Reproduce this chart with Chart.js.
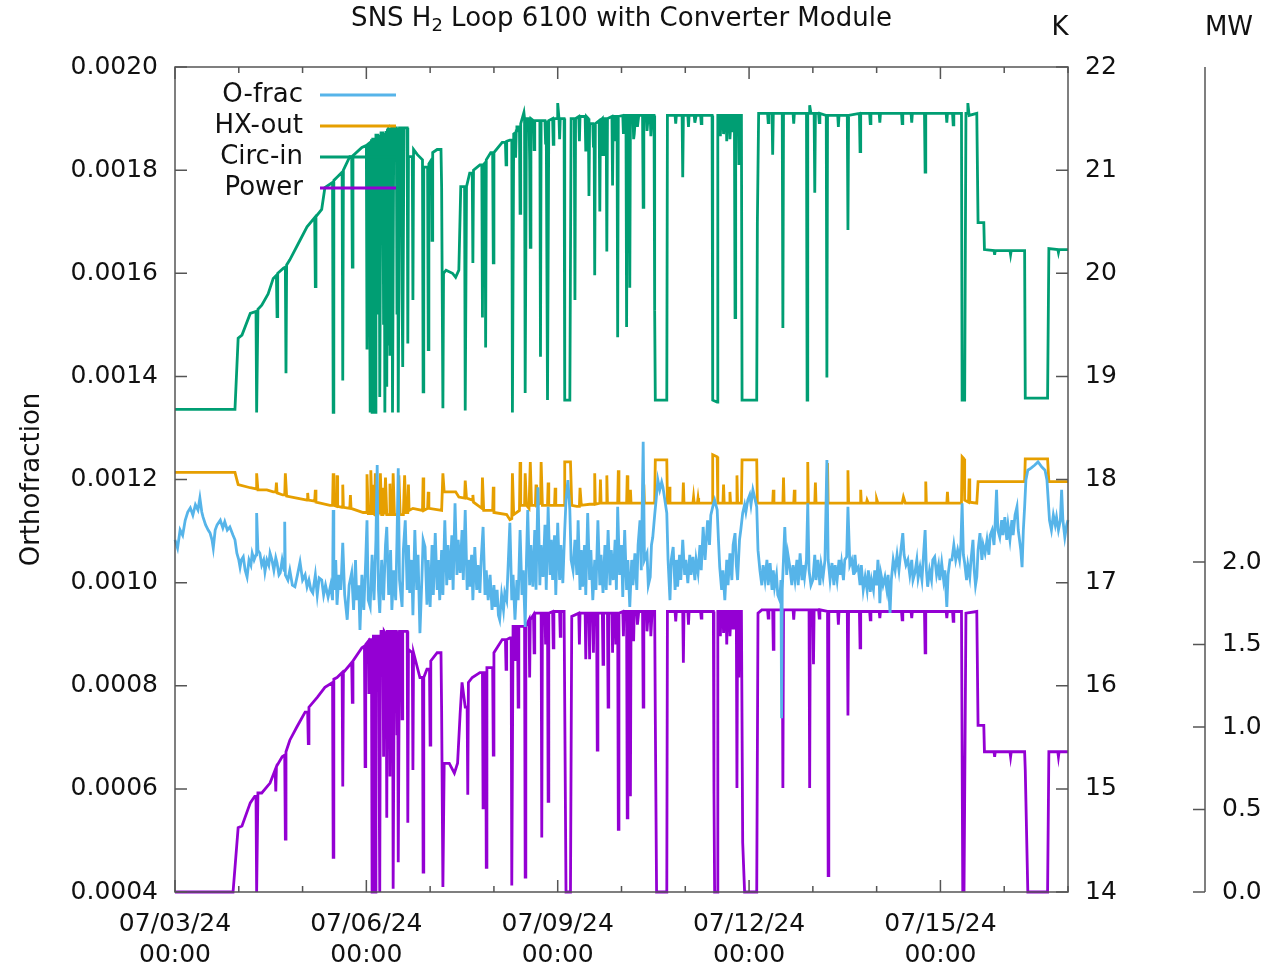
<!DOCTYPE html>
<html>
<head>
<meta charset="utf-8">
<title>SNS H2 Loop 6100 with Converter Module</title>
<script src="https://cdn.jsdelivr.net/npm/chart.js@4.4.1/dist/chart.umd.min.js"></script>
<style>
  html, body { margin: 0; padding: 0; background: #fff; }
  #chart { display: block; }
</style>
</head>
<body>
<canvas id="chart" width="1285" height="967"></canvas>
<script>
const seriesNames = ["O-frac", "HX-out", "Circ-in", "Power"];
const seriesColors = ["#56b4e9", "#e69f00", "#009e73", "#9400d3"];
const dateTickDays = [0, 3, 6, 9, 12];
const dateTickLabels = ["07/03/24", "07/06/24", "07/09/24", "07/12/24", "07/15/24"];
const mwTickMax = 2.0;

// [days since 07/03/24 00:00, value]
const oFrac = [
    [0.00,0.001083],[0.04,0.001067],[0.08,0.001102],[0.12,0.001092],[0.16,0.001121],[0.20,0.001137],[0.24,0.001145],
    [0.28,0.001131],[0.32,0.001151],[0.36,0.001141],[0.39,0.001164],[0.42,0.001137],[0.44,0.001127],[0.48,0.001112],
    [0.52,0.001102],[0.55,0.001096],[0.58,0.001083],[0.60,0.001067],[0.63,0.001102],[0.66,0.001112],[0.71,0.001121],
    [0.75,0.001106],[0.78,0.001118],[0.82,0.001102],[0.86,0.001108],[0.91,0.001092],[0.94,0.001083],[0.97,0.001057],
    [1.00,0.001044],[1.02,0.001030],[1.04,0.001044],[1.07,0.001050],[1.10,0.001024],[1.13,0.001011],[1.16,0.001044],
    [1.19,0.001034],[1.21,0.001057],[1.24,0.001044],[1.27,0.001054],[1.28,0.001135],[1.30,0.001063],[1.33,0.001057],
    [1.36,0.001034],[1.39,0.001044],[1.41,0.001021],[1.44,0.001044],[1.47,0.001034],[1.49,0.001057],[1.52,0.001044],
    [1.55,0.001024],[1.58,0.001048],[1.60,0.001038],[1.63,0.001015],[1.65,0.001019],[1.68,0.001044],[1.71,0.001024],
    [1.72,0.001118],[1.73,0.001015],[1.77,0.001005],[1.80,0.001024],[1.84,0.000995],[1.88,0.000992],[1.92,0.001015],
    [1.96,0.001040],[2.00,0.001005],[2.04,0.001015],[2.07,0.000992],[2.10,0.001005],[2.13,0.000986],[2.16,0.000980],
    [2.20,0.001015],[2.23,0.000976],[2.26,0.001009],[2.30,0.001005],[2.33,0.000976],[2.36,0.000995],[2.40,0.000972],
    [2.44,0.000995],[2.47,0.000966],[2.48,0.001141],[2.49,0.000986],[2.52,0.001044],[2.54,0.000957],[2.57,0.001015],
    [2.60,0.000986],[2.63,0.001077],[2.66,0.000976],[2.70,0.000928],[2.73,0.000995],[2.77,0.001019],[2.80,0.000947],
    [2.83,0.001044],[2.85,0.000966],[2.88,0.000995],[2.90,0.000908],[2.93,0.001015],[2.96,0.000947],[2.99,0.001044],
    [3.01,0.001121],[3.03,0.000966],[3.06,0.000953],[3.09,0.001054],[3.12,0.000966],[3.15,0.001083],[3.17,0.001228],
    [3.19,0.000986],[3.21,0.000941],[3.24,0.001044],[3.27,0.000966],[3.30,0.001073],[3.32,0.001108],[3.35,0.000976],
    [3.38,0.001063],[3.40,0.000947],[3.43,0.001024],[3.46,0.000966],[3.48,0.001083],[3.50,0.001222],[3.52,0.001005],
    [3.56,0.000953],[3.58,0.001063],[3.61,0.001121],[3.64,0.000986],[3.66,0.001073],[3.68,0.000980],[3.71,0.001044],
    [3.73,0.000937],[3.76,0.001102],[3.79,0.000986],[3.81,0.001054],[3.84,0.000902],[3.87,0.001005],[3.89,0.001083],
    [3.92,0.001069],[3.95,0.000957],[3.97,0.001044],[4.00,0.000953],[4.03,0.001073],[4.05,0.000976],[4.08,0.001096],
    [4.11,0.000986],[4.13,0.001044],[4.15,0.000966],[4.18,0.001063],[4.20,0.000976],[4.23,0.001121],[4.26,0.000995],
    [4.28,0.001073],[4.31,0.001005],[4.34,0.001092],[4.36,0.000986],[4.39,0.001154],[4.42,0.001015],[4.44,0.001083],
    [4.47,0.001019],[4.50,0.001102],[4.52,0.001005],[4.55,0.001141],[4.58,0.000986],[4.60,0.001044],[4.62,0.000992],
    [4.65,0.001054],[4.67,0.000966],[4.70,0.001069],[4.73,0.000986],[4.75,0.001034],[4.78,0.000980],[4.80,0.001044],
    [4.83,0.001108],[4.86,0.000976],[4.88,0.001024],[4.91,0.000966],[4.94,0.001015],[4.97,0.000947],[5.00,0.000995],
    [5.02,0.000953],[5.05,0.000986],[5.07,0.000937],[5.09,0.000928],[5.12,0.000976],[5.15,0.000947],[5.17,0.000980],
    [5.20,0.000966],[5.22,0.001024],[5.25,0.001116],[5.28,0.000966],[5.30,0.001015],[5.33,0.000928],[5.36,0.001005],
    [5.38,0.000966],[5.41,0.001102],[5.44,0.000976],[5.46,0.001024],[5.49,0.000914],[5.51,0.001044],[5.53,0.001141],
    [5.56,0.000995],[5.58,0.001073],[5.61,0.000992],[5.64,0.001102],[5.66,0.000986],[5.69,0.001185],[5.72,0.000995],
    [5.74,0.001073],[5.77,0.001011],[5.80,0.001112],[5.82,0.000986],[5.85,0.001147],[5.88,0.001015],[5.90,0.001083],
    [5.92,0.001005],[5.95,0.001092],[5.97,0.000976],[6.00,0.001116],[6.03,0.001005],[6.05,0.001073],[6.08,0.000999],
    [6.11,0.001102],[6.13,0.001160],[6.16,0.001199],[6.19,0.001141],[6.21,0.001044],[6.24,0.001024],[6.27,0.001083],
    [6.30,0.001015],[6.32,0.001121],[6.35,0.000986],[6.37,0.001063],[6.39,0.000992],[6.42,0.001073],[6.44,0.000976],
    [6.47,0.001135],[6.50,0.001005],[6.52,0.001063],[6.55,0.000966],[6.58,0.001044],[6.60,0.000986],[6.63,0.001121],
    [6.66,0.000995],[6.68,0.001054],[6.71,0.000980],[6.74,0.001073],[6.76,0.000986],[6.79,0.001102],[6.82,0.000995],
    [6.84,0.001063],[6.87,0.001005],[6.90,0.001083],[6.92,0.000986],[6.94,0.001147],[6.97,0.001015],[7.00,0.001073],
    [7.02,0.000972],[7.05,0.001102],[7.08,0.000986],[7.10,0.001044],[7.13,0.000953],[7.16,0.001044],[7.18,0.000995],
    [7.21,0.001057],[7.24,0.000986],[7.26,0.001073],[7.29,0.001121],[7.31,0.001024],[7.34,0.001273],[7.36,0.001044],
    [7.40,0.001057],[7.42,0.000995],[7.45,0.001011],[7.47,0.001073],[7.49,0.001088],[7.52,0.001131],[7.55,0.001170],
    [7.57,0.001199],[7.60,0.001180],[7.63,0.001195],[7.65,0.001185],[7.68,0.001160],[7.71,0.001135],[7.73,0.001044],
    [7.76,0.000966],[7.78,0.001044],[7.81,0.001069],[7.84,0.000986],[7.86,0.001044],[7.88,0.000992],[7.91,0.001054],
    [7.93,0.001005],[7.96,0.001083],[7.99,0.001015],[8.01,0.001044],[8.04,0.000999],[8.07,0.001054],[8.09,0.001015],
    [8.12,0.001050],[8.15,0.001005],[8.17,0.001044],[8.20,0.001019],[8.23,0.001073],[8.25,0.001024],[8.28,0.001108],
    [8.31,0.001044],[8.33,0.001083],[8.35,0.001121],[8.38,0.001073],[8.40,0.001131],[8.43,0.001147],[8.46,0.001160],
    [8.50,0.001141],[8.52,0.001083],[8.54,0.001030],[8.57,0.000986],[8.59,0.001024],[8.62,0.000966],[8.65,0.001044],
    [8.67,0.000995],[8.70,0.001057],[8.73,0.001005],[8.75,0.001073],[8.78,0.001096],[8.80,0.001034],[8.82,0.001005],
    [8.85,0.001083],[8.87,0.001102],[8.90,0.001135],[8.93,0.001151],[8.95,0.001137],[8.98,0.001160],[9.01,0.001170],
    [9.03,0.001151],[9.06,0.001180],[9.09,0.001164],[9.12,0.001147],[9.14,0.001063],[9.17,0.001024],[9.20,0.000995],
    [9.22,0.001034],[9.25,0.001005],[9.28,0.001044],[9.30,0.000995],[9.33,0.001038],[9.36,0.000986],[9.38,0.001024],
    [9.40,0.000992],[9.43,0.001015],[9.45,0.000976],[9.48,0.000966],[9.50,0.001005],[9.51,0.000737],[9.52,0.000986],
    [9.56,0.001108],[9.59,0.001015],[9.61,0.001054],[9.64,0.001030],[9.67,0.000995],[9.69,0.001034],[9.72,0.001005],
    [9.75,0.001044],[9.77,0.000995],[9.80,0.001057],[9.83,0.001005],[9.85,0.001034],[9.87,0.001011],[9.90,0.001044],
    [9.92,0.001154],[9.94,0.001024],[9.97,0.000995],[10.00,0.001005],[10.03,0.001054],[10.05,0.001005],[10.08,0.001044],
    [10.11,0.000995],[10.13,0.001034],[10.16,0.001011],[10.19,0.001044],[10.22,0.001238],[10.24,0.001044],[10.27,0.001005],
    [10.30,0.001038],[10.33,0.000995],[10.35,0.001034],[10.38,0.001005],[10.41,0.001044],[10.43,0.001015],[10.45,0.001038],
    [10.48,0.001005],[10.50,0.001044],[10.53,0.001050],[10.55,0.001147],[10.58,0.001034],[10.61,0.001044],[10.64,0.001015],
    [10.66,0.001054],[10.68,0.001024],[10.71,0.001030],[10.74,0.000995],[10.76,0.001034],[10.79,0.000986],[10.82,0.001011],
    [10.85,0.000986],[10.87,0.001024],[10.90,0.000982],[10.92,0.001005],[10.95,0.000986],[10.97,0.001024],[11.00,0.000995],
    [11.02,0.001044],[11.04,0.001005],[11.05,0.000960],[11.07,0.001015],[11.10,0.000995],[11.13,0.001011],[11.16,0.000986],
    [11.18,0.001015],[11.21,0.000941],[11.23,0.001005],[11.26,0.001044],[11.29,0.001024],[11.32,0.001054],[11.35,0.001024],
    [11.38,0.001063],[11.41,0.001096],[11.43,0.001054],[11.46,0.001034],[11.49,0.001044],[11.52,0.001015],[11.55,0.001044],
    [11.57,0.001005],[11.60,0.001019],[11.63,0.001044],[11.65,0.001009],[11.68,0.001030],[11.71,0.001005],[11.73,0.001044],
    [11.76,0.001102],[11.78,0.001024],[11.80,0.000992],[11.83,0.001024],[11.86,0.001005],[11.88,0.001044],[11.91,0.001050],
    [11.94,0.001015],[11.97,0.001034],[11.99,0.001005],[12.02,0.001038],[12.05,0.001005],[12.07,0.001024],[12.10,0.000953],
    [12.12,0.001015],[12.15,0.001044],[12.18,0.001044],[12.21,0.001073],[12.24,0.001044],[12.27,0.001063],[12.30,0.001044],
    [12.32,0.001073],[12.34,0.001154],[12.36,0.001054],[12.38,0.001038],[12.41,0.001005],[12.43,0.001034],[12.46,0.001011],
    [12.48,0.001044],[12.51,0.001083],[12.53,0.001024],[12.55,0.000995],[12.57,0.001011],[12.59,0.001063],[12.62,0.001096],
    [12.65,0.001044],[12.67,0.001073],[12.70,0.001057],[12.73,0.001083],[12.76,0.001054],[12.78,0.001092],[12.81,0.001102],
    [12.84,0.001073],[12.86,0.001121],[12.88,0.001180],[12.90,0.001102],[12.93,0.001088],[12.96,0.001121],[12.98,0.001092],
    [13.01,0.001127],[13.04,0.001083],[13.06,0.001112],[13.09,0.001083],[13.12,0.001121],[13.14,0.001092],[13.17,0.001131],
    [13.20,0.001147],[13.22,0.001102],[13.24,0.001083],[13.26,0.001063],[13.28,0.001030],[13.30,0.001102],[13.32,0.001147],
    [13.34,0.001199],[13.37,0.001218],[13.42,0.001222],[13.48,0.001228],[13.53,0.001234],[13.59,0.001224],[13.64,0.001218],
    [13.67,0.001199],[13.69,0.001160],[13.71,0.001121],[13.74,0.001102],[13.77,0.001131],[13.80,0.001112],[13.82,0.001127],
    [13.85,0.001102],[13.88,0.001121],[13.90,0.001180],[13.92,0.001121],[13.95,0.001088],[13.98,0.001112],[14.00,0.001121]
];

const hxOut = [
    [0,18.07],[0.94,18.07],[0.99,17.95],[1.18,17.92],[1.27,17.91],[1.28,18.06],[1.30,17.90],[1.44,17.90],[1.54,17.88],
    [1.58,17.88],[1.59,17.97],[1.60,17.87],[1.69,17.85],[1.72,17.85],[1.73,18.06],[1.75,17.84],[1.91,17.82],[2.07,17.80],
    [2.08,17.87],[2.09,17.80],[2.19,17.79],[2.20,17.90],[2.21,17.78],[2.43,17.75],[2.47,17.75],[2.48,18.06],[2.49,17.75],
    [2.53,17.74],[2.54,18.04],[2.55,17.74],[2.62,17.73],[2.63,17.95],[2.64,17.73],[2.74,17.72],[2.75,17.85],[2.76,17.72],
    [2.95,17.68],[3.00,17.68],[3.01,18.05],[3.03,17.67],[3.06,17.67],[3.07,18.09],[3.09,17.67],[3.10,17.95],[3.11,17.67],
    [3.13,17.66],[3.14,18.06],[3.16,17.66],[3.18,17.66],[3.19,17.90],[3.20,17.66],[3.21,17.66],[3.22,18.06],[3.24,17.66],
    [3.26,17.66],[3.27,17.92],[3.28,17.66],[3.29,17.66],[3.30,18.02],[3.32,17.66],[3.36,17.66],[3.37,17.96],[3.38,17.66],
    [3.41,17.66],[3.42,18.06],[3.44,17.66],[3.50,17.66],[3.51,18.04],[3.53,17.66],[3.58,17.66],[3.60,18.04],[3.62,17.68],
    [3.65,17.68],[3.66,17.95],[3.67,17.70],[3.73,17.72],[3.88,17.70],[3.89,18.02],[3.90,17.70],[3.96,17.72],[3.97,17.88],
    [3.98,17.72],[4.18,17.70],[4.20,18.06],[4.22,17.88],[4.40,17.88],[4.45,17.83],[4.54,17.82],[4.55,17.99],[4.57,17.82],
    [4.66,17.80],[4.67,17.85],[4.68,17.78],[4.81,17.72],[4.82,18.02],[4.84,17.70],[4.98,17.70],[4.99,17.93],[5.00,17.68],
    [5.20,17.66],[5.25,17.61],[5.28,17.62],[5.29,18.06],[5.31,17.66],[5.40,17.70],[5.41,18.17],[5.42,17.75],[5.48,17.75],
    [5.49,18.06],[5.51,17.75],[5.55,17.72],[5.57,18.17],[5.59,17.75],[5.65,17.75],[5.66,17.95],[5.67,17.75],[5.73,17.77],
    [5.74,18.17],[5.76,17.75],[5.84,17.75],[5.85,17.97],[5.86,17.75],[5.95,17.75],[5.96,17.92],[5.97,17.75],[6.10,17.75],
    [6.11,18.17],[6.20,18.17],[6.22,17.75],[6.30,17.74],[6.34,17.74],[6.35,17.92],[6.37,17.75],[6.50,17.76],[6.57,17.76],
    [6.58,18.06],[6.59,17.76],[6.66,17.77],[6.67,18.00],[6.68,17.77],[6.76,17.77],[6.77,18.04],[6.78,17.77],[6.94,17.77],
    [6.95,18.09],[6.96,17.77],[7.08,17.77],[7.09,18.04],[7.10,17.77],[7.13,17.77],[7.14,17.90],[7.15,17.77],[7.34,17.77],
    [7.35,17.95],[7.36,17.77],[7.52,17.77],[7.53,18.19],[7.71,18.19],[7.72,17.77],[7.74,17.77],[7.75,17.93],[7.76,17.77],
    [7.96,17.77],[7.97,17.97],[7.98,17.77],[8.12,17.77],[8.13,17.83],[8.14,17.77],[8.19,17.77],[8.20,17.82],[8.21,17.77],
    [8.42,17.77],[8.43,18.24],[8.50,18.22],[8.51,17.77],[8.59,17.77],[8.60,17.95],[8.61,17.77],[8.69,17.77],[8.70,17.88],
    [8.71,17.77],[8.80,17.77],[8.81,18.04],[8.82,17.77],[8.88,17.77],[8.89,18.19],[9.12,18.19],[9.13,17.77],[9.37,17.77],
    [9.38,17.90],[9.39,17.77],[9.53,17.77],[9.54,18.02],[9.55,17.77],[9.70,17.77],[9.71,17.90],[9.72,17.77],[9.91,17.77],
    [9.92,18.17],[9.93,17.77],[10.03,17.77],[10.04,17.97],[10.05,17.77],[10.22,17.77],[10.23,18.16],[10.24,17.77],
    [10.54,17.77],[10.55,18.09],[10.56,17.77],[10.74,17.77],[10.75,17.90],[10.76,17.77],[10.84,17.77],[10.85,17.80],
    [10.87,17.77],[10.99,17.77],[11.00,17.81],[11.02,17.77],[11.40,17.77],[11.42,17.83],[11.45,17.77],[11.76,17.77],
    [11.77,17.98],[11.78,17.77],[12.10,17.77],[12.11,17.88],[12.12,17.77],[12.33,17.77],[12.34,18.22],[12.37,18.20],
    [12.38,17.80],[12.44,17.78],[12.45,18.01],[12.46,17.78],[12.57,17.77],[12.59,17.98],[13.32,17.98],[13.33,18.20],
    [13.68,18.20],[13.70,17.98],[14.00,17.98]
];

const circIn = [
    [0,18.68],[0.94,18.68],[0.99,19.37],[1.05,19.40],[1.18,19.61],[1.27,19.63],[1.28,18.65],[1.30,19.65],[1.36,19.69],
    [1.46,19.80],[1.54,19.95],[1.59,19.98],[1.60,19.58],[1.61,20.00],[1.70,20.05],[1.73,20.06],[1.74,19.03],[1.75,20.08],
    [1.80,20.13],[1.96,20.32],[2.07,20.45],[2.19,20.54],[2.20,19.87],[2.21,20.55],[2.30,20.62],[2.35,20.83],[2.47,20.88],
    [2.48,18.65],[2.49,20.90],[2.54,20.93],[2.62,20.98],[2.63,18.96],[2.64,21.00],[2.74,21.13],[2.77,21.13],[2.78,20.06],
    [2.79,21.14],[2.93,21.22],[3.00,21.24],[3.01,19.26],[3.02,21.25],[3.04,21.26],[3.05,20.10],[3.06,18.65],[3.08,21.30],
    [3.09,18.65],[3.10,21.30],[3.12,21.30],[3.13,18.65],[3.14,18.65],[3.15,21.34],[3.18,21.34],[3.19,19.60],[3.20,21.34],
    [3.21,18.80],[3.23,21.36],[3.26,21.36],[3.27,19.50],[3.28,21.36],[3.29,18.65],[3.31,21.38],[3.32,18.90],[3.33,21.39],
    [3.34,21.40],[3.35,19.30],[3.36,21.40],[3.37,19.20],[3.38,21.40],[3.40,21.41],[3.41,18.65],[3.43,21.41],[3.47,21.41],
    [3.48,19.60],[3.49,21.41],[3.50,18.65],[3.52,21.41],[3.55,21.41],[3.56,19.80],[3.57,19.09],[3.59,21.41],[3.64,21.41],
    [3.65,19.32],[3.66,21.13],[3.72,21.13],[3.73,19.74],[3.74,21.20],[3.80,21.15],[3.88,21.10],[3.89,18.85],[3.90,21.03],
    [3.96,21.03],[3.97,19.26],[3.98,21.06],[4.02,21.10],[4.03,20.32],[4.04,21.17],[4.11,21.20],[4.17,21.20],[4.18,20.84],
    [4.20,18.69],[4.21,20.00],[4.25,20.03],[4.35,20.00],[4.40,19.96],[4.45,20.03],[4.48,20.84],[4.54,20.84],[4.55,18.67],
    [4.57,20.84],[4.62,20.97],[4.66,20.97],[4.67,20.10],[4.68,21.00],[4.78,21.05],[4.81,21.05],[4.82,19.57],[4.83,21.05],
    [4.86,21.07],[4.87,19.28],[4.88,21.10],[4.95,21.17],[4.98,21.17],[4.99,20.10],[5.00,21.17],[5.13,21.27],[5.18,21.27],
    [5.19,21.05],[5.20,21.28],[5.25,21.29],[5.28,21.29],[5.29,18.65],[5.31,21.35],[5.33,21.36],[5.34,21.12],[5.35,21.38],
    [5.36,21.42],[5.40,21.42],[5.41,20.58],[5.42,21.45],[5.47,21.56],[5.48,21.50],[5.49,18.84],[5.51,21.50],[5.55,21.50],
    [5.56,21.10],[5.57,20.25],[5.58,21.50],[5.62,21.48],[5.63,21.20],[5.64,21.48],[5.72,21.48],[5.73,19.19],[5.74,21.48],
    [5.80,21.48],[5.81,21.25],[5.82,21.48],[5.83,21.48],[5.84,18.77],[5.86,21.48],[5.92,21.50],[5.93,21.25],[5.94,21.50],
    [5.99,21.50],[6.00,21.65],[6.02,21.50],[6.03,21.30],[6.04,21.50],[6.10,21.50],[6.11,18.77],[6.19,18.77],[6.21,21.50],
    [6.26,21.50],[6.27,19.74],[6.28,21.50],[6.33,21.52],[6.34,21.28],[6.35,21.52],[6.43,21.52],[6.44,21.18],[6.45,21.52],
    [6.48,21.50],[6.49,20.75],[6.50,21.45],[6.55,21.45],[6.56,21.22],[6.57,21.45],[6.58,19.98],[6.59,21.45],[6.65,21.48],
    [6.66,20.60],[6.67,21.48],[6.70,21.50],[6.71,21.15],[6.72,21.50],[6.76,21.50],[6.77,20.21],[6.78,21.50],[6.85,21.52],
    [6.86,20.85],[6.87,21.52],[6.90,21.52],[6.91,21.28],[6.92,21.52],[6.93,21.52],[6.94,19.38],[6.95,21.52],[7.02,21.53],
    [7.03,21.35],[7.04,21.53],[7.07,21.53],[7.08,19.48],[7.09,21.53],[7.12,21.53],[7.13,19.86],[7.14,21.53],[7.18,21.53],
    [7.19,21.30],[7.20,21.35],[7.22,21.53],[7.24,21.53],[7.25,21.42],[7.27,21.53],[7.33,21.53],[7.34,20.64],[7.35,21.53],
    [7.39,21.53],[7.40,21.38],[7.42,21.53],[7.45,21.53],[7.46,21.33],[7.48,21.53],[7.51,21.53],[7.52,19.64],[7.53,18.77],
    [7.71,18.77],[7.72,21.53],[7.84,21.53],[7.85,21.45],[7.86,21.53],[7.95,21.53],[7.96,20.93],[7.97,21.53],[8.04,21.53],
    [8.05,21.42],[8.06,21.53],[8.14,21.53],[8.15,21.46],[8.17,21.53],[8.24,21.53],[8.25,21.45],[8.26,21.53],[8.42,21.53],
    [8.43,18.77],[8.50,18.75],[8.51,21.53],[8.54,21.53],[8.55,21.33],[8.56,21.53],[8.59,21.53],[8.60,21.35],[8.62,21.53],
    [8.64,21.53],[8.65,21.28],[8.66,21.53],[8.69,21.53],[8.70,21.30],[8.72,21.53],[8.74,21.53],[8.75,21.38],[8.76,21.53],
    [8.77,21.53],[8.78,19.57],[8.79,21.53],[8.83,21.53],[8.84,21.05],[8.85,21.53],[8.88,21.53],[8.89,18.77],[9.12,18.77],
    [9.13,20.49],[9.15,21.55],[9.29,21.55],[9.30,21.46],[9.31,21.55],[9.36,21.55],[9.37,21.15],[9.38,21.55],[9.52,21.55],
    [9.53,19.47],[9.54,21.55],[9.69,21.55],[9.70,21.45],[9.71,21.55],[9.90,21.55],[9.91,18.77],[9.92,21.55],[9.94,21.55],
    [9.95,21.63],[9.97,21.55],[10.02,21.55],[10.03,20.78],[10.04,21.55],[10.09,21.55],[10.10,21.46],[10.11,21.55],
    [10.21,21.53],[10.22,18.99],[10.23,21.53],[10.39,21.53],[10.40,21.42],[10.41,21.53],[10.54,21.53],[10.55,20.42],
    [10.56,21.53],[10.73,21.55],[10.74,21.18],[10.75,21.55],[10.89,21.55],[10.90,21.45],[10.91,21.55],[11.04,21.55],
    [11.05,21.46],[11.06,21.55],[11.39,21.55],[11.40,21.45],[11.41,21.55],[11.54,21.55],[11.55,21.46],[11.56,21.55],
    [11.75,21.55],[11.76,20.98],[11.77,21.55],[12.09,21.55],[12.10,21.46],[12.11,21.55],[12.19,21.55],[12.20,21.44],
    [12.21,21.55],[12.33,21.55],[12.34,18.77],[12.38,18.77],[12.40,21.55],[12.42,21.55],[12.43,21.65],[12.45,21.53],
    [12.57,21.55],[12.59,20.49],[12.68,20.49],[12.69,20.23],[12.84,20.22],[12.85,20.18],[12.86,20.22],[13.09,20.22],
    [13.10,20.18],[13.11,20.22],[13.32,20.22],[13.33,18.79],[13.68,18.79],[13.70,20.24],[13.84,20.23],[13.85,20.20],
    [13.86,20.23],[14.00,20.23]
];

const power = [
    [0,0],[0.91,0],[0.99,0.39],[1.05,0.40],[1.18,0.54],[1.25,0.58],[1.27,0.58],[1.28,0],[1.30,0.60],[1.36,0.60],
    [1.49,0.66],[1.57,0.74],[1.58,0.61],[1.59,0.76],[1.68,0.82],[1.72,0.83],[1.73,0.32],[1.74,0.85],[1.80,0.92],
    [1.91,1.00],[2.04,1.09],[2.08,1.09],[2.09,0.90],[2.10,1.12],[2.23,1.18],[2.35,1.24],[2.47,1.27],[2.48,0.21],
    [2.49,1.29],[2.54,1.30],[2.62,1.33],[2.63,0.64],[2.64,1.33],[2.77,1.39],[2.78,1.15],[2.79,1.40],[2.93,1.48],
    [2.97,1.49],[2.98,0.76],[2.99,1.50],[3.03,1.52],[3.04,1.20],[3.05,1.53],[3.08,1.53],[3.09,0],[3.10,1.10],[3.11,1.55],
    [3.13,1.55],[3.14,0],[3.15,1.55],[3.19,1.55],[3.21,0],[3.22,1.40],[3.23,1.58],[3.26,1.58],[3.27,0.82],[3.28,1.58],
    [3.31,1.56],[3.32,0.45],[3.33,1.58],[3.36,1.58],[3.37,0.70],[3.38,1.58],[3.41,1.58],[3.42,0.02],[3.44,1.58],
    [3.47,1.58],[3.48,0.95],[3.49,1.58],[3.50,0.18],[3.52,1.58],[3.55,1.58],[3.56,1.05],[3.57,1.58],[3.64,1.58],
    [3.65,0.42],[3.66,1.47],[3.72,1.45],[3.73,0.74],[3.74,1.45],[3.84,1.30],[3.88,1.30],[3.89,0.12],[3.90,1.30],
    [3.95,1.35],[3.99,1.35],[4.00,0.89],[4.01,1.40],[4.11,1.45],[4.17,1.45],[4.18,1.10],[4.20,0.03],[4.22,0.78],
    [4.30,0.78],[4.38,0.72],[4.43,0.78],[4.47,1.08],[4.50,1.27],[4.55,1.12],[4.58,1.12],[4.59,0.59],[4.60,1.27],
    [4.66,1.30],[4.78,1.33],[4.82,1.33],[4.83,0.51],[4.84,1.33],[4.87,1.33],[4.88,0.15],[4.89,1.36],[4.98,1.36],
    [4.99,0.83],[5.00,1.45],[5.13,1.53],[5.18,1.53],[5.19,1.35],[5.20,1.53],[5.25,1.54],[5.27,1.54],[5.28,0.04],
    [5.30,1.61],[5.33,1.61],[5.34,1.40],[5.35,1.61],[5.37,1.61],[5.38,1.12],[5.39,1.61],[5.48,1.61],[5.49,0.09],
    [5.50,1.61],[5.55,1.65],[5.56,1.30],[5.57,1.65],[5.62,1.68],[5.63,1.45],[5.64,1.69],[5.74,1.69],[5.75,0.33],
    [5.76,1.69],[5.80,1.69],[5.81,1.50],[5.82,1.69],[5.84,1.69],[5.85,0.55],[5.86,1.69],[5.92,1.70],[5.93,1.48],
    [5.94,1.70],[6.03,1.70],[6.04,1.55],[6.05,1.70],[6.10,1.70],[6.13,0],[6.20,0],[6.22,1.67],[6.33,1.69],[6.34,1.50],
    [6.35,1.69],[6.43,1.69],[6.44,1.41],[6.45,1.69],[6.49,1.69],[6.50,1.41],[6.51,1.69],[6.55,1.69],[6.56,1.45],
    [6.57,1.69],[6.61,1.69],[6.62,0.86],[6.63,1.69],[6.70,1.69],[6.71,1.38],[6.72,1.69],[6.78,1.69],[6.79,1.12],
    [6.80,1.69],[6.85,1.69],[6.86,1.45],[6.87,1.69],[6.90,1.69],[6.91,1.50],[6.92,1.69],[6.94,1.69],[6.95,0.38],
    [6.96,1.69],[7.02,1.70],[7.03,1.55],[7.04,1.70],[7.08,1.70],[7.09,0.45],[7.10,1.70],[7.13,1.70],[7.14,0.58],
    [7.15,1.70],[7.18,1.70],[7.19,1.52],[7.20,1.70],[7.24,1.70],[7.25,1.62],[7.27,1.70],[7.33,1.70],[7.34,1.12],
    [7.35,1.70],[7.39,1.70],[7.40,1.58],[7.42,1.70],[7.45,1.70],[7.46,1.55],[7.48,1.70],[7.52,1.70],[7.53,1.06],[7.55,0],
    [7.71,0],[7.72,1.70],[7.84,1.70],[7.85,1.64],[7.86,1.70],[7.96,1.70],[7.97,1.39],[7.98,1.70],[8.04,1.70],[8.05,1.62],
    [8.06,1.70],[8.24,1.70],[8.25,1.66],[8.26,1.70],[8.44,1.70],[8.45,0.60],[8.46,0],[8.50,0],[8.51,1.70],[8.54,1.70],
    [8.55,1.55],[8.56,1.70],[8.59,1.70],[8.60,1.57],[8.62,1.70],[8.64,1.70],[8.65,1.50],[8.66,1.70],[8.69,1.70],
    [8.70,1.55],[8.72,1.70],[8.74,1.70],[8.75,1.60],[8.76,1.70],[8.80,1.70],[8.81,0.63],[8.82,1.70],[8.83,1.70],
    [8.84,1.30],[8.85,1.70],[8.88,1.70],[8.90,0.30],[8.93,0],[9.12,0],[9.14,1.69],[9.20,1.71],[9.29,1.71],[9.30,1.66],
    [9.31,1.71],[9.37,1.71],[9.38,1.47],[9.39,1.71],[9.52,1.71],[9.53,0.63],[9.54,1.71],[9.69,1.71],[9.70,1.65],
    [9.71,1.71],[9.94,1.71],[9.95,0.63],[9.96,1.71],[10.00,1.71],[10.01,1.38],[10.02,1.71],[10.09,1.71],[10.10,1.66],
    [10.11,1.71],[10.23,1.70],[10.24,0.10],[10.25,1.70],[10.39,1.70],[10.40,1.62],[10.41,1.70],[10.54,1.70],[10.55,1.07],
    [10.56,1.70],[10.73,1.70],[10.74,1.48],[10.75,1.70],[10.89,1.70],[10.90,1.65],[10.91,1.70],[11.04,1.70],[11.05,1.66],
    [11.06,1.70],[11.39,1.70],[11.40,1.65],[11.41,1.70],[11.54,1.70],[11.55,1.66],[11.56,1.70],[11.75,1.70],[11.76,1.45],
    [11.77,1.70],[12.09,1.70],[12.10,1.66],[12.11,1.70],[12.19,1.70],[12.20,1.64],[12.21,1.70],[12.33,1.70],[12.35,0.01],
    [12.37,0.01],[12.40,1.69],[12.57,1.70],[12.59,1.01],[12.68,1.01],[12.69,0.85],[12.84,0.85],[12.85,0.82],[12.86,0.85],
    [13.09,0.85],[13.10,0.82],[13.11,0.85],[13.32,0.85],[13.33,0.74],[13.37,0],[13.68,0],[13.70,0.85],[13.84,0.85],
    [13.85,0.82],[13.86,0.85],[14.00,0.85]
];

const FONT = '"DejaVu Sans", sans-serif';
const TICK_SIZE = 25;
const LABEL_SIZE = 26;
const TEXT_COLOR = "#111";
const FRAME_COLOR = "#555";
const LINE_WIDTH = 2.8;

function toXY(series) {
    return series.map((p) => ({ x: p[0], y: p[1] }));
}

function makeDataset(i, series, axis) {
    return {
        label: seriesNames[i],
        data: toXY(series),
        yAxisID: axis,
        borderColor: seriesColors[i],
        backgroundColor: seriesColors[i],
        borderWidth: LINE_WIDTH,
        pointRadius: 0,
        tension: 0,
        fill: false,
        clip: 4,
    };
}

// gnuplot style frame, inward tics, key and labels
const gnuplotDecor = {
    id: "gnuplotDecor",
    afterDraw(chart) {
        const ctx = chart.ctx;
        const a = chart.chartArea;
        const sx = chart.scales.x;
        const sy = chart.scales.y;
        const sk = chart.scales.yK;
        const sm = chart.scales.yMW;

        ctx.save();
        ctx.strokeStyle = FRAME_COLOR;
        ctx.lineWidth = 1.5;
        ctx.strokeRect(a.left, a.top, a.right - a.left, a.bottom - a.top);

        ctx.beginPath();
        sx.ticks.forEach((t) => {
            const px = sx.getPixelForValue(t.value);
            const len = dateTickDays.includes(t.value) ? 12 : 6;
            ctx.moveTo(px, a.bottom);
            ctx.lineTo(px, a.bottom - len);
            ctx.moveTo(px, a.top);
            ctx.lineTo(px, a.top + len);
        });
        sy.ticks.forEach((t) => {
            const py = sy.getPixelForValue(t.value);
            ctx.moveTo(a.left, py);
            ctx.lineTo(a.left + 12, py);
        });
        sk.ticks.forEach((t) => {
            const py = sk.getPixelForValue(t.value);
            ctx.moveTo(a.right, py);
            ctx.lineTo(a.right - 12, py);
        });
        ctx.moveTo(sm.left, a.top);
        ctx.lineTo(sm.left, a.bottom);
        sm.ticks.forEach((t) => {
            const py = sm.getPixelForValue(t.value);
            ctx.moveTo(sm.left, py);
            ctx.lineTo(sm.left - 12, py);
        });
        ctx.stroke();

        ctx.fillStyle = TEXT_COLOR;
        ctx.textBaseline = "middle";

        // title with subscript
        const big = LABEL_SIZE + "px " + FONT;
        const small = Math.round(LABEL_SIZE * 0.7) + "px " + FONT;
        const t1 = "SNS H", t2 = "2", t3 = " Loop 6100 with Converter Module";
        ctx.font = big;
        const w1 = ctx.measureText(t1).width, w3 = ctx.measureText(t3).width;
        ctx.font = small;
        const w2 = ctx.measureText(t2).width;
        const tx = (a.left + a.right) / 2 - (w1 + w2 + w3) / 2;
        const ty = 19;
        ctx.textAlign = "left";
        ctx.font = big;
        ctx.fillText(t1, tx, ty);
        ctx.font = small;
        ctx.fillText(t2, tx + w1, ty + 7);
        ctx.font = big;
        ctx.fillText(t3, tx + w1 + w2, ty);

        // axis unit labels
        ctx.textAlign = "center";
        ctx.fillText("K", a.right - 8, 28);
        ctx.fillText("MW", sm.left + 24, 28);

        ctx.save();
        ctx.translate(32, (a.top + a.bottom) / 2);
        ctx.rotate(-Math.PI / 2);
        ctx.fillText("Orthofraction", 0, 0);
        ctx.restore();

        // key
        ctx.textAlign = "right";
        chart.data.datasets.forEach((ds, i) => {
            const ky = 95 + i * 31;
            ctx.fillStyle = TEXT_COLOR;
            ctx.fillText(ds.label, 303, ky);
            ctx.strokeStyle = ds.borderColor;
            ctx.lineWidth = LINE_WIDTH;
            ctx.beginPath();
            ctx.moveTo(320, ky);
            ctx.lineTo(396, ky);
            ctx.stroke();
        });
        ctx.restore();
    },
};

const tickFont = { family: FONT, size: TICK_SIZE };

new Chart(document.getElementById("chart"), {
    type: "line",
    data: {
        datasets: [
            makeDataset(0, oFrac, "y"),
            makeDataset(1, hxOut, "yK"),
            makeDataset(2, circIn, "yK"),
            makeDataset(3, power, "yMW"),
        ],
    },
    options: {
        responsive: false,
        animation: false,
        devicePixelRatio: 1,
        layout: { padding: { top: 67, left: 0, right: 0, bottom: 0 } },
        plugins: {
            legend: { display: false },
            tooltip: { enabled: false },
        },
        scales: {
            x: {
                type: "linear",
                min: 0,
                max: 14,
                afterFit: (s) => { s.height = 75; },
                grid: { display: false },
                border: { display: false },
                ticks: {
                    stepSize: 1,
                    autoSkip: false,
                    maxRotation: 0,
                    padding: 9,
                    color: TEXT_COLOR,
                    font: { family: FONT, size: TICK_SIZE, lineHeight: 1.24 },
                    callback: (value) => {
                        const i = dateTickDays.indexOf(value);
                        return i >= 0 ? [dateTickLabels[i], "00:00"] : "";
                    },
                },
            },
            y: {
                position: "left",
                min: 0.0004,
                max: 0.002,
                afterFit: (s) => { s.width = 175; },
                grid: { display: false },
                border: { display: false },
                ticks: {
                    stepSize: 0.0002,
                    padding: 9,
                    color: TEXT_COLOR,
                    font: tickFont,
                    callback: (value) => value.toFixed(4),
                },
            },
            yK: {
                position: "right",
                weight: 0,
                min: 14,
                max: 22,
                afterFit: (s) => { s.width = 137; },
                grid: { display: false },
                border: { display: false },
                ticks: {
                    stepSize: 1,
                    padding: 9,
                    color: TEXT_COLOR,
                    font: tickFont,
                },
            },
            yMW: {
                position: "right",
                weight: 1,
                min: 0,
                max: 5,
                afterFit: (s) => { s.width = 80; },
                afterBuildTicks: (s) => { s.ticks = s.ticks.filter((t) => t.value <= mwTickMax + 1e-9); },
                grid: { display: false },
                border: { display: false },
                ticks: {
                    stepSize: 0.5,
                    padding: 9,
                    color: TEXT_COLOR,
                    font: tickFont,
                    callback: (value) => value.toFixed(1),
                },
            },
        },
    },
    plugins: [gnuplotDecor],
});
</script>
</body>
</html>
